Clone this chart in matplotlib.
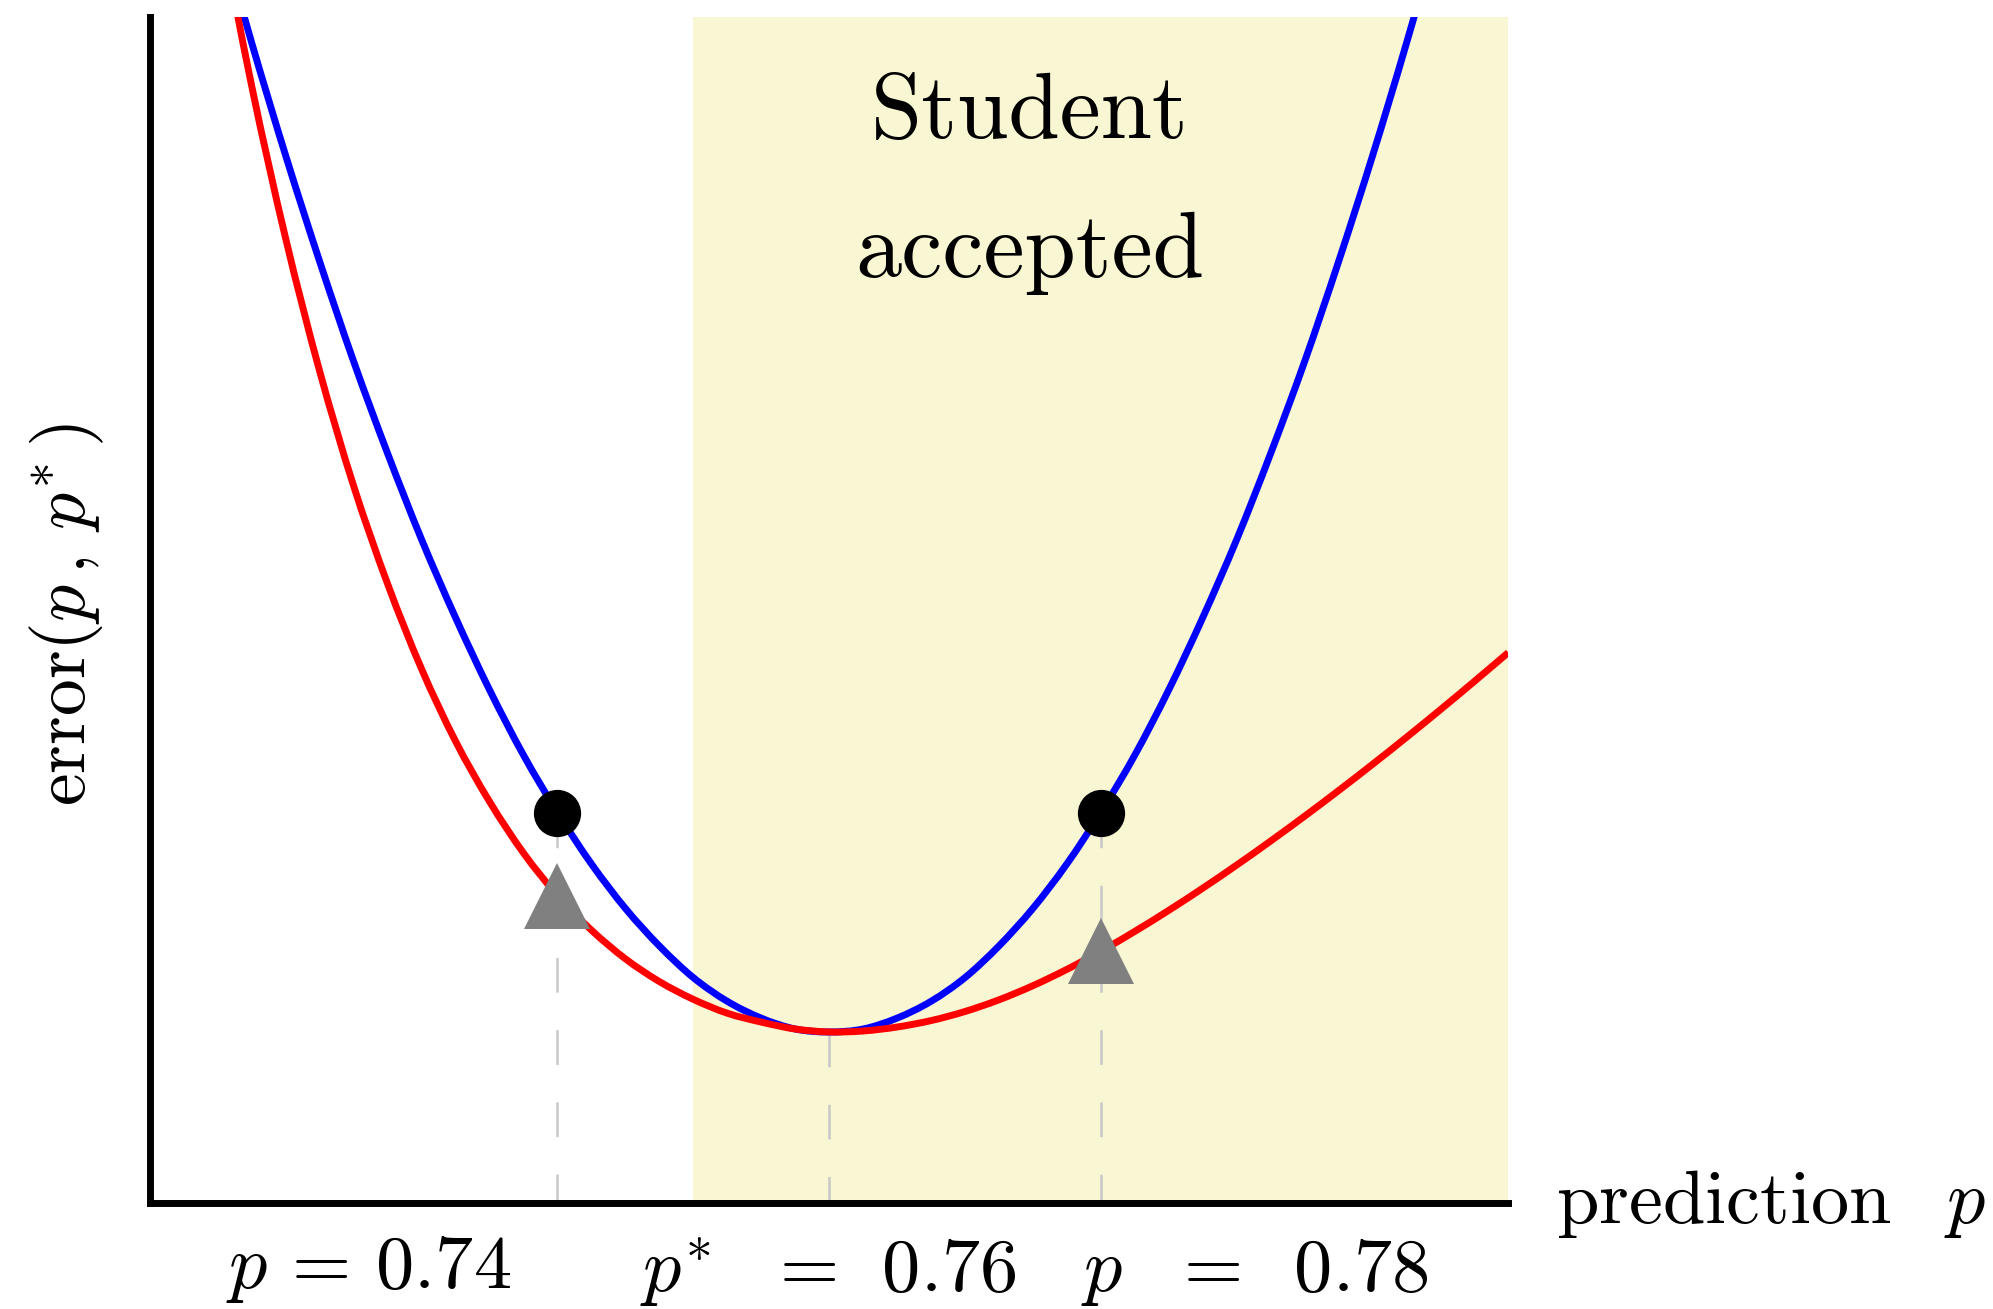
import matplotlib
matplotlib.use('Agg')
import matplotlib.pyplot as plt
from matplotlib.path import Path
from matplotlib.patches import PathPatch

plt.rcParams['mathtext.fontset'] = 'cm'
plt.rcParams['font.family'] = 'cmr10'
plt.rcParams['axes.unicode_minus'] = False
plt.rcParams['lines.scale_dashes'] = False

# predictions p on a fixed grid, and the error of each curve at those p
p_grid = [0.715, 0.7175, 0.72, 0.7225, 0.725, 0.7275, 0.73, 0.7325, 0.735, 0.7375,
          0.74, 0.7425, 0.745, 0.7475, 0.75, 0.7525, 0.755, 0.7575, 0.76, 0.7625,
          0.765, 0.7675, 0.77, 0.7725, 0.775, 0.7775, 0.78, 0.7825, 0.785, 0.7875,
          0.79, 0.7925, 0.795, 0.7975, 0.80, 0.8025, 0.805, 0.8075, 0.81]
err_blue = [1.294, 1.173, 1.059, 0.952, 0.851, 0.758, 0.671, 0.592, 0.519, 0.453,
            0.395, 0.343, 0.298, 0.260, 0.228, 0.204, 0.187, 0.176, 0.173, 0.176,
            0.187, 0.204, 0.228, 0.260, 0.298, 0.343, 0.395, 0.453, 0.519, 0.592,
            0.671, 0.758, 0.851, 0.952, 1.059, 1.173, 1.294, 1.422, 1.557]
err_red = [1.305, 1.129, 0.975, 0.841, 0.725, 0.626, 0.540, 0.467, 0.406, 0.354,
           0.311, 0.276, 0.247, 0.224, 0.206, 0.192, 0.183, 0.176, 0.173, 0.174,
           0.178, 0.1845, 0.1937, 0.2055, 0.2198, 0.2363, 0.2547, 0.2747, 0.296, 0.3184,
           0.3418, 0.3661, 0.3912, 0.4171, 0.4437, 0.471, 0.499, 0.5276, 0.5568]

p_star = 0.76
p_marked = [0.74, 0.78]
accept_lo, accept_hi = 0.75, 0.81

x_labels = [r'$p\,=\,0.74$', r'$p^{*}\;\;\,=\;\,0.76$', r'$p\;\;\,=\;\;0.78$']
x_label_pos = [0.7261, 0.7599, 0.7913]
x_label_y = [-0.086, -0.090, -0.089]


def smooth_path(xs, ys):
    # cubic Bezier pieces through every (x, y), Catmull-Rom tangents
    n = len(xs)
    verts = [(xs[0], ys[0])]
    codes = [Path.MOVETO]
    for i in range(n - 1):
        a = max(i - 1, 0)
        d = min(i + 2, n - 1)
        c1 = (xs[i] + (xs[i + 1] - xs[a]) / 6, ys[i] + (ys[i + 1] - ys[a]) / 6)
        c2 = (xs[i + 1] - (xs[d] - xs[i]) / 6, ys[i + 1] - (ys[d] - ys[i]) / 6)
        verts += [c1, c2, (xs[i + 1], ys[i + 1])]
        codes += [Path.CURVE4] * 3
    return Path(verts, codes)


fig = plt.figure(figsize=(19.93, 13.09), dpi=100)
ax = fig.add_axes([0.07526, 0.08098, 0.68153, 0.90627])
ax.set_xlim(0.71, 0.81)
ax.set_ylim(0, 1.2)

ax.axvspan(accept_lo, accept_hi, color='#f9f6d3', lw=0, zorder=0)

i_star = p_grid.index(p_star)
ax.plot([p_star, p_star], [err_blue[i_star], 0], color='#c8c8c8', lw=1.8,
        ls=(0, (25, 27)), zorder=1)
for p in p_marked:
    i = p_grid.index(p)
    ax.plot([p, p], [err_blue[i], 0], color='#c8c8c8', lw=1.8,
            ls=(0, (25, 27)), zorder=1)

ax.add_patch(PathPatch(smooth_path(p_grid, err_blue), fill=False,
                       edgecolor='#0000ff', lw=5, zorder=2))
ax.add_patch(PathPatch(smooth_path(p_grid, err_red), fill=False,
                       edgecolor='#ff0000', lw=5, zorder=3))

for p in p_marked:
    i = p_grid.index(p)
    ax.plot(p, err_blue[i], 'o', color='black', ms=33, zorder=4)
    ax.plot(p, err_red[i], '^', color='#808080', ms=48, mew=0, zorder=4)

ax.text(0.7748, 1.077, 'Student', fontsize=66.5, ha='center', va='baseline')
ax.text(0.7748, 0.9364, 'accepted', fontsize=66.5, ha='center', va='baseline')

for lab, xp, yp in zip(x_labels, x_label_pos, x_label_y):
    ax.text(xp, yp, lab, fontsize=55, ha='center', va='baseline', clip_on=False)

ax.text(0.8135, -0.0204, r'$\mathrm{prediction}\;\;\;p$', fontsize=55,
        ha='left', va='baseline', clip_on=False)
ax.text(0.70526, 0.595, r'$\mathrm{error}(p\,,\,p^{*}\,)$', fontsize=53,
        rotation=90, rotation_mode='anchor', ha='center', va='baseline',
        clip_on=False)

for side in ['top', 'right']:
    ax.spines[side].set_visible(False)
for side in ['left', 'bottom']:
    ax.spines[side].set_linewidth(5)
ax.set_xticks([])
ax.set_yticks([])

fig.savefig('out.png', dpi=100)
